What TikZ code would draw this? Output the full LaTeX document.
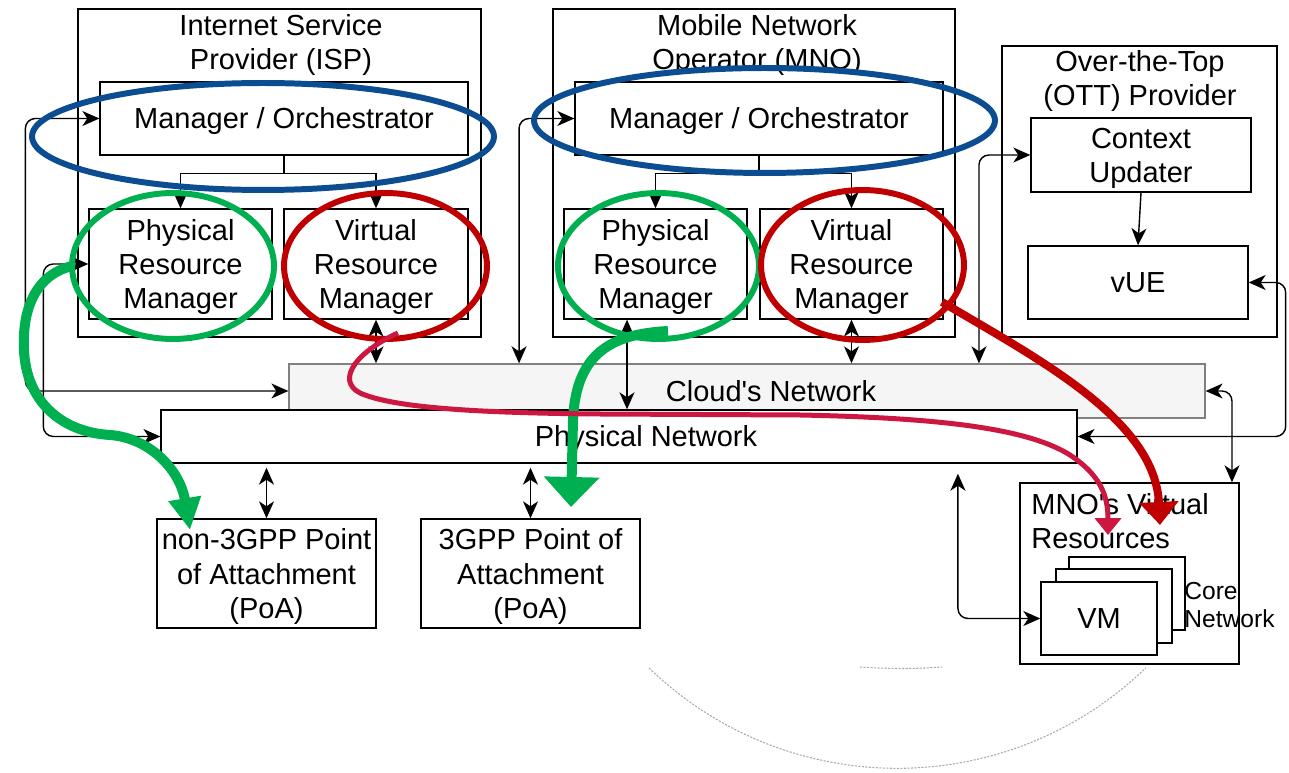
\documentclass[tikz,border=0pt]{standalone}
\usepackage{fontspec}
\setmainfont{Liberation Sans}
\usetikzlibrary{arrows.meta}

\definecolor{ovalblue}{RGB}{12,76,145}
\definecolor{ovalgreen}{RGB}{0,176,80}
\definecolor{ovalred}{RGB}{192,0,0}
\definecolor{flowred}{RGB}{204,24,64}
\definecolor{cloudfill}{RGB}{245,245,245}
\definecolor{cloudline}{RGB}{128,128,128}
\definecolor{arcgray}{RGB}{170,170,170}

\tikzset{
  txt/.style={font=\fontsize{16.5}{19.4}\selectfont, execute at begin node={\rule[-0.212em]{0pt}{1.117em}}},
  lines/.style={text depth=0pt},
  box/.style={txt, draw=black, line width=0.8pt, fill=white, align=center, inner sep=2pt},
  container/.style={draw=black, line width=0.8pt, fill=white},
  title/.style={txt, lines, align=center, inner sep=0pt},
  link/.style={line width=0.8pt},
  elbow/.style={line width=0.8pt, rounded corners=0.2cm},
  oval/.style={line width=3.4pt},
  arcline/.style={arcgray, line width=0.6pt, dash pattern=on 1.2pt off 0.8pt}
}

\begin{document}
\begin{tikzpicture}[x=0.02cm, y=-0.02cm, >={Stealth[length=0.34cm,width=0.3cm,inset=0.1cm]}]
		\useasboundingbox (0,0) rectangle (1289,773);

		\node [container, minimum width=8.06cm, minimum height=6.56cm] (isp) at (279.5,173) {};
		\node [title] (ispT) at (281,42) {Internet Service\\Provider (ISP)};
		\node [box, minimum width=7.36cm, minimum height=1.46cm] (ispMO) at (284,118.5) {Manager / Orchestrator};
		\node [box, lines, minimum width=3.66cm, minimum height=2.2cm] (ispPRM) at (180.5,264) {Physical\\Resource\\Manager};
		\node [box, lines, minimum width=3.68cm, minimum height=2.2cm] (ispVRM) at (376,264) {Virtual\\Resource\\Manager};

		\node [container, minimum width=8.04cm, minimum height=6.56cm] (mno) at (754,173) {};
		\node [title] (mnoT) at (757,42) {Mobile Network\\Operator (MNO)};
		\node [box, minimum width=7.36cm, minimum height=1.46cm] (mnoMO) at (759,118.5) {Manager / Orchestrator};
		\node [box, lines, minimum width=3.66cm, minimum height=2.2cm] (mnoPRM) at (655.5,264) {Physical\\Resource\\Manager};
		\node [box, lines, minimum width=3.66cm, minimum height=2.2cm] (mnoVRM) at (851.5,264) {Virtual\\Resource\\Manager};

		\node [container, minimum width=5.5cm, minimum height=5.82cm] (ott) at (1139.5,191.5) {};
		\node [title] (ottT) at (1140,78) {Over-the-Top\\(OTT) Provider};
		\node [box, lines, minimum width=4.4cm, minimum height=1.48cm] (cu) at (1141,155) {Context\\Updater};
		\node [box, minimum width=4.4cm, minimum height=1.46cm] (vue) at (1138,282.5) {vUE};

		\node [box, fill=cloudfill, draw=cloudline, minimum width=18.32cm, minimum height=1.08cm,
		       label={[txt, xshift=0.48cm]center:Cloud\textquotesingle s Network}] (cloud) at (747,391) {};
		\node [box, minimum width=18.32cm, minimum height=1.06cm,
		       label={[txt, xshift=0.54cm]center:Physical Network}] (phys) at (619,436.5) {};

		\node [box, lines, minimum width=4.38cm, minimum height=2.18cm] (non) at (266.5,573.5) {non-3GPP Point\\of Attachment\\(PoA)};
		\node [box, lines, minimum width=4.38cm, minimum height=2.18cm] (tgpp) at (530.5,573.5) {3GPP Point of\\Attachment\\(PoA)};

		\node [container, minimum width=4.38cm, minimum height=3.62cm] (vr) at (1129.5,573.5) {};
		\node [title, anchor=west, align=left] (vrT) at (1031,521) {MNO\textquotesingle s Virtual\\Resources};
		\node [box, minimum width=2.32cm, minimum height=1.46cm] (vmC) at (1127,593.5) {};
		\node [box, minimum width=2.32cm, minimum height=1.48cm] (vmB) at (1114,606) {};
		\node [box, minimum width=2.32cm, minimum height=1.46cm] (vm) at (1099,618.5) {VM};
		\node [title, anchor=west, align=left, font=\fontsize{14}{16}\selectfont] (coreT) at (1184,605) {Core\\Network};

		\draw [link, ->] (ispMO.south) -- ++(0,18) -| (ispPRM.north);
		\draw [link, ->] (ispMO.south) -- ++(0,18) -| (ispVRM.north);
		\draw [link, ->] (mnoMO.south) -- ++(0,18) -| (mnoPRM.north);
		\draw [link, ->] (mnoMO.south) -- ++(0,18) -| (mnoVRM.north);
		\draw [link, ->] (cu.south) -- (vue.north);

		\draw [elbow, <->] (ispMO.west) -- ++(-74,0) |- (cloud.west);
		\draw [elbow, <->] (ispPRM.west) -- ++(-45,0) |- (phys.west);
		\draw [elbow, <->] (mnoMO.west) -| ([xshift=-4.56cm]cloud.north);
		\draw [link, <->] (ispVRM.south) -- (ispVRM.south |- cloud.north);
		\draw [link, <->] ([xshift=-0.57cm]mnoPRM.south) -- ([xshift=-0.57cm]mnoPRM.south |- phys.north);
		\draw [link, <->] (mnoVRM.south) -- (mnoVRM.south |- cloud.north);
		\draw [elbow, <->] (cu.west) -| ([xshift=4.64cm]cloud.north);
		\draw [elbow, <->] (vue.east) -- ++(37,0) |- (phys.east);
		\draw [elbow, <->] (cloud.east) -| ([xshift=2.05cm]vr.north);
		\draw [elbow, <->] (vm.west) -| ([xshift=6.78cm,yshift=-0.2cm]phys.south);
		\draw [link, <->, shorten <=0.08cm] (non.north |- phys.south) -- (non.north);
		\draw [link, <->, shorten <=0.08cm] (tgpp.north |- phys.south) -- (tgpp.north);

		\draw [oval, ovalblue] (263,136.5) ellipse [x radius=4.62cm, y radius=1.07cm];
		\draw [oval, ovalblue] (764.5,120.5) ellipse [x radius=4.61cm, y radius=1.05cm];
		\draw [oval, ovalgreen] (173,266) ellipse [x radius=2.02cm, y radius=1.46cm];
		\draw [oval, ovalred] (385.5,266) ellipse [x radius=2.03cm, y radius=1.46cm];
		\draw [oval, ovalgreen] (658.5,266) ellipse [x radius=2.01cm, y radius=1.46cm];
		\draw [oval, ovalred] (862.5,265) ellipse [x radius=2.03cm, y radius=1.5cm];

		\draw [ovalgreen, line width=0.2cm, -{Triangle[length=0.64cm,width=0.62cm]}]
		    (72,266) .. controls (35,275) and (22,310) .. (24,350)
		    .. controls (26,400) and (60,432) .. (110,435)
		    .. controls (150,438) and (180,470) .. (190,530);
		\draw [ovalgreen, line width=0.2cm, -{Triangle[length=0.6cm,width=1.08cm]}]
		    (668,331) .. controls (615,334) and (576,350) .. (573,420) -- (571,507);
		\draw [ovalred, line width=0.16cm, -{Triangle[length=0.46cm,width=0.76cm]}]
		    (942,302) .. controls (1040,360) and (1155,420) .. (1160,525);
		\draw [flowred, line width=0.1cm, -{Triangle[length=0.34cm,width=0.52cm]}]
		    (398,333) .. controls (350,355) and (335,385) .. (365,395)
		    .. controls (400,408) and (480,413) .. (600,414) -- (800,415)
		    .. controls (950,418) and (1030,430) .. (1070,455)
		    .. controls (1100,475) and (1108,495) .. (1108,535);

		\draw [arcline] (649,668) arc [start angle=134, end angle=46, radius=357.5];
		\draw [arcline] (860,667) .. controls (890,669) and (915,669) .. (942,667);
\end{tikzpicture}
\end{document}
